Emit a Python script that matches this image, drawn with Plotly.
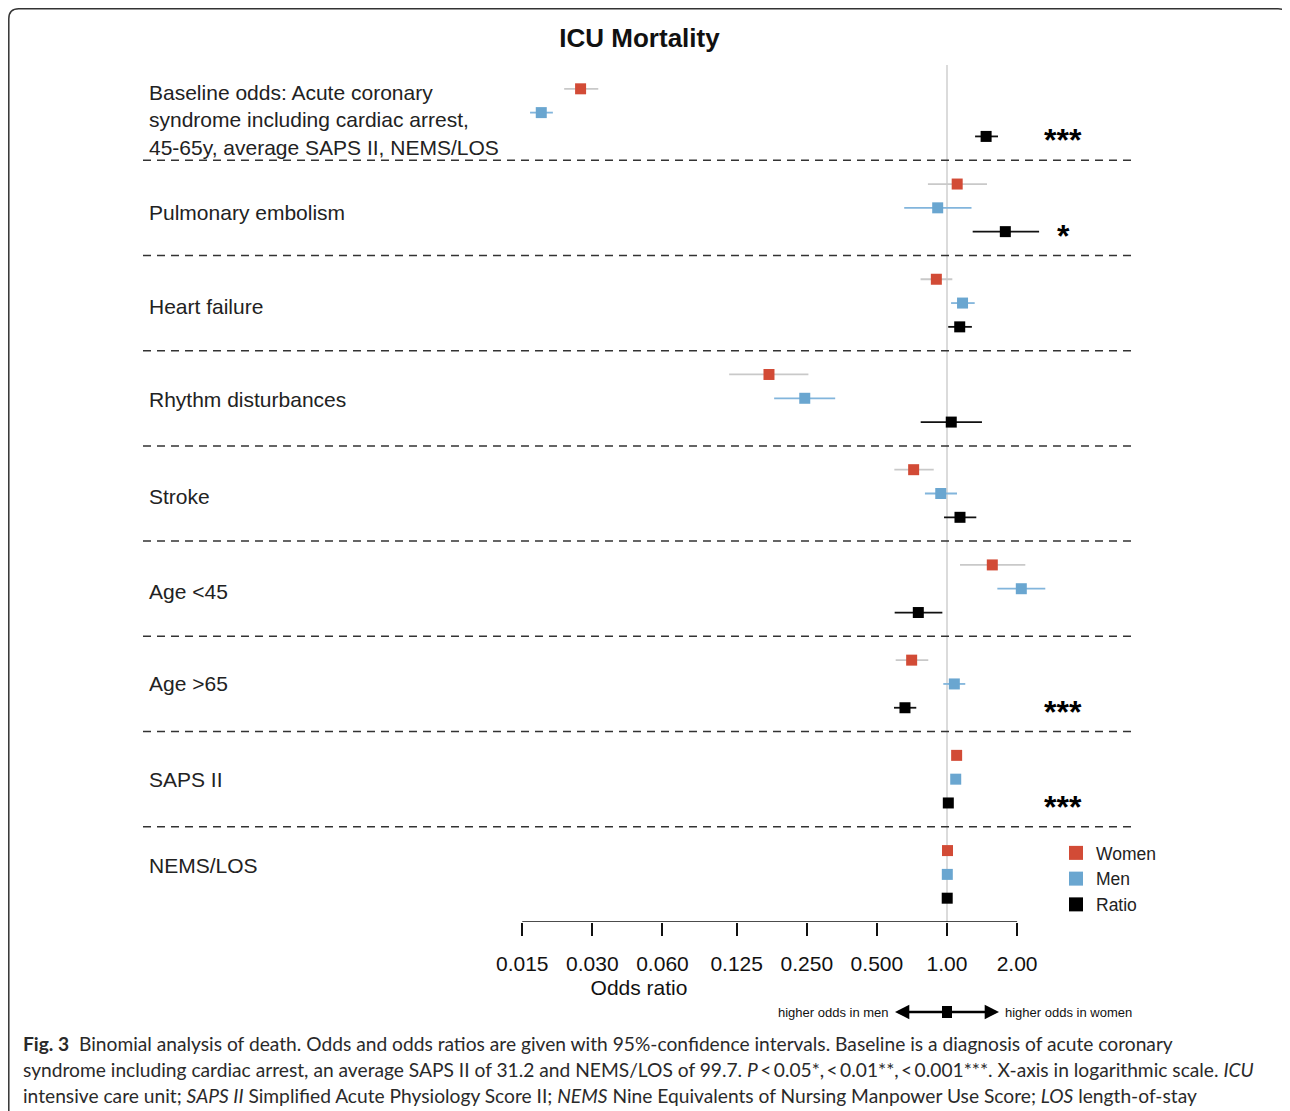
import plotly.graph_objects as go

# ---------------- data ----------------
groups = [
    "Baseline odds: Acute coronary<br>syndrome including cardiac arrest,<br>45-65y, average SAPS II, NEMS/LOS",
    "Pulmonary embolism",
    "Heart failure",
    "Rhythm disturbances",
    "Stroke",
    "Age <45",
    "Age >65",
    "SAPS II",
    "NEMS/LOS",
]
women_or = [0.0267, 1.106, 0.900, 0.172, 0.719, 1.565, 0.705, 1.100, 1.005]
women_lo = [0.0227, 0.828, 0.770, 0.116, 0.594, 1.137, 0.602, 1.092, 1.001]
women_hi = [0.0318, 1.485, 1.054, 0.254, 0.877, 2.169, 0.831, 1.108, 1.009]

men_or = [0.0181, 0.912, 1.166, 0.245, 0.940, 2.085, 1.075, 1.090, 1.003]
men_lo = [0.0162, 0.655, 1.041, 0.181, 0.804, 1.645, 0.964, 1.082, 0.999]
men_hi = [0.0203, 1.274, 1.315, 0.331, 1.104, 2.643, 1.198, 1.098, 1.007]

ratio_or = [1.472, 1.780, 1.134, 1.043, 1.137, 0.753, 0.660, 1.013, 1.002]
ratio_lo = [1.320, 1.289, 1.012, 0.771, 0.971, 0.596, 0.592, 1.006, 0.998]
ratio_hi = [1.656, 2.486, 1.279, 1.413, 1.336, 0.955, 0.738, 1.020, 1.006]

stars = ["***", "*", "", "", "", "", "***", "***", ""]

tick_vals = [0.015, 0.03, 0.06, 0.125, 0.25, 0.5, 1.0, 2.0]
tick_text = ["0.015", "0.030", "0.060", "0.125", "0.250", "0.500", "1.00", "2.00"]

series_names = ["Women", "Men", "Ratio"]
# --------------------------------------

# page body has an 8px margin; work in reference pixel coords and subtract it
OFF = 8
W, H = 1290 - OFF, 1111 - OFF
PL, PR, PT, PB = 143, 1135, 65, 922          # plot area in reference pixels
PW, PH = PR - PL, PB - PT
ML, MT = PL - OFF, PT - OFF
MR, MB = W - ML - PW, H - MT - PH
XMIN, XMAX = 10 ** -3.4526, 10 ** 0.8073
YTOP, YBOT = 1, -35

# small vertical nudges of the group labels (pixels, layout only; negative = down)
label_shift = [-7.4, -5, -3, -1, -2.6, -2.4, 0.5, 0, 9.2]


def px_x(p):
    return (p - PL) / PW


def px_y(p):
    return (PB - p) / PH


RED = "#d24b36"
BLUE = "#6aa6d0"
BLACK = "#000000"
RED_ERR = "#c9c9c9"
BLUE_ERR = "#82b5dc"
BLACK_ERR = "#111111"

n = len(groups)
fig = go.Figure()

# reference vertical line at OR = 1
fig.add_trace(go.Scatter(x=[1, 1], y=[YTOP, YBOT], mode="lines",
                         line=dict(color="#cfcfcf", width=1.5),
                         hoverinfo="skip", showlegend=False))
# group separators
for g in range(n - 1):
    yy = -(4 * g + 3)
    fig.add_trace(go.Scatter(x=[XMIN, XMAX], y=[yy, yy], mode="lines",
                             line=dict(color="#333333", width=1.5, dash="8px,6px"),
                             hoverinfo="skip", showlegend=False))
# axis line from first to last tick
fig.add_trace(go.Scatter(x=[tick_vals[0], tick_vals[-1]], y=[YBOT, YBOT], mode="lines",
                         line=dict(color="#111111", width=1.5),
                         hoverinfo="skip", showlegend=False))

series = [
    (women_or, women_lo, women_hi, RED, RED_ERR, 0),
    (men_or, men_lo, men_hi, BLUE, BLUE_ERR, 1),
    (ratio_or, ratio_lo, ratio_hi, BLACK, BLACK_ERR, 2),
]
for (vals, lo, hi, col, ecol, r), name in zip(series, series_names):
    ys = [-(4 * g + r) for g in range(n)]
    fig.add_trace(go.Scatter(
        x=vals, y=ys, mode="markers", name=name, showlegend=False,
        marker=dict(symbol="square", size=11, color=col, line=dict(width=0)),
        error_x=dict(type="data", symmetric=False,
                     array=[h - v for h, v in zip(hi, vals)],
                     arrayminus=[v - l for v, l in zip(vals, lo)],
                     color=ecol, thickness=1.8, width=0),
    ))
    # legend-only entry
    fig.add_trace(go.Scatter(
        x=[None], y=[None], mode="markers", name=name,
        marker=dict(symbol="square", size=14, color=col, line=dict(width=0)),
    ))

annotations = []
# group labels
for g, lab in enumerate(groups):
    annotations.append(dict(
        xref="paper", yref="y", x=px_x(146.5), y=-(4 * g + 1), yshift=label_shift[g],
        text=lab, showarrow=False, xanchor="left", yanchor="middle", align="left",
        font=dict(size=21, color="#222222", family="Liberation Sans, Arial")))
# significance stars
for g, s in enumerate(stars):
    if s:
        annotations.append(dict(
            xref="paper", yref="y", x=px_x(1063), y=-(4 * g + 2), yshift=-4,
            text="<b>" + s + "</b>", showarrow=False, xanchor="center", yanchor="middle",
            font=dict(size=32, color="#000000", family="Liberation Sans, Arial")))

# direction arrows below the axis
ya = px_y(1012)
annotations += [
    dict(xref="paper", yref="paper", x=px_x(895), y=ya, ax=52, ay=0, text="",
         showarrow=True, arrowhead=2, arrowsize=1.1, arrowwidth=2.6, arrowcolor="#000"),
    dict(xref="paper", yref="paper", x=px_x(999), y=ya, ax=-52, ay=0, text="",
         showarrow=True, arrowhead=2, arrowsize=1.1, arrowwidth=2.6, arrowcolor="#000"),
    dict(xref="paper", yref="paper", x=px_x(891), y=ya, text="higher odds in men",
         showarrow=False, xanchor="right", yanchor="middle",
         font=dict(size=13, color="#111", family="Liberation Sans, Arial")),
    dict(xref="paper", yref="paper", x=px_x(1003), y=ya, text="higher odds in women",
         showarrow=False, xanchor="left", yanchor="middle",
         font=dict(size=13, color="#111", family="Liberation Sans, Arial")),
]

# caption
TS = "\u2009"
cap_lines = [
    "<b>Fig. 3</b>  Binomial analysis of death. Odds and odds ratios are given with 95%-confidence intervals. Baseline is a diagnosis of acute coronary",
    "syndrome including cardiac arrest, an average SAPS II of 31.2 and NEMS/LOS of 99.7. "
    f"<i>P</i>{TS}<{TS}0.05*,{TS}<{TS}0.01**,{TS}<{TS}0.001***. X-axis in logarithmic scale. <i>ICU</i>",
    "intensive care unit; <i>SAPS II</i> Simplified Acute Physiology Score II; <i>NEMS</i> Nine Equivalents of Nursing Manpower Use Score; <i>LOS</i> length-of-stay",
]
for i, t in enumerate(cap_lines):
    annotations.append(dict(
        xref="paper", yref="paper", x=px_x(21), y=px_y(1043 + 26 * i),
        text=t, showarrow=False, xanchor="left", yanchor="middle", align="left",
        font=dict(size=19.2, color="#2a2a2a", family="Lato, Open Sans")))

# frame (rounded rectangle)
x0, x1, y0, y1, rr = 8.8, 1288, 8.8, 1130, 10
rx, ry = rr / PW, rr / PH
X0, X1, Y0, Y1 = px_x(x0), px_x(x1), px_y(y0), px_y(y1)
frame_path = (f"M {X0+rx},{Y0} L {X1-rx},{Y0} Q {X1},{Y0} {X1},{Y0-ry} "
              f"L {X1},{Y1} L {X0},{Y1} L {X0},{Y0-ry} Q {X0},{Y0} {X0+rx},{Y0} Z")
shapes = [
    dict(type="path", xref="paper", yref="paper", path=frame_path,
         line=dict(color="#333333", width=1.5), layer="above"),
    # square on the direction arrow
    dict(type="rect", xref="paper", yref="paper",
         x0=px_x(942), x1=px_x(952), y0=px_y(1006), y1=px_y(1018),
         fillcolor="#000", line=dict(width=0)),
]

fig.update_layout(
    width=W, height=H,
    margin=dict(l=ML, r=MR, t=MT, b=MB, autoexpand=False),
    paper_bgcolor="white", plot_bgcolor="white",
    font=dict(family="Liberation Sans, Arial", color="#222222"),
    title=dict(text="<b>ICU Mortality</b>", x=(639.5 - OFF) / W, y=1 - (38 - OFF) / H,
               xanchor="center", yanchor="middle",
               font=dict(size=26, color="#111111", family="Liberation Sans, Arial")),
    xaxis=dict(type="log", range=[-3.4526, 0.8073], showgrid=False, zeroline=False,
               showline=False, tickmode="array", tickvals=tick_vals, ticktext=tick_text,
               ticks="outside", ticklen=13, tickwidth=1.5, tickcolor="#111",
               ticklabelstandoff=10,
               tickfont=dict(size=21, color="#111"),
               title=dict(text="Odds ratio", font=dict(size=21, color="#111"), standoff=6)),
    yaxis=dict(range=[YBOT, YTOP], showgrid=False, zeroline=False, showline=False,
               showticklabels=False, ticks=""),
    legend=dict(x=px_x(1056), y=px_y(835), xanchor="left", yanchor="top",
                bgcolor="rgba(0,0,0,0)", font=dict(size=17.5, color="#222"),
                tracegroupgap=0),
    annotations=annotations,
    shapes=shapes,
)

fig.write_html("out.html")
